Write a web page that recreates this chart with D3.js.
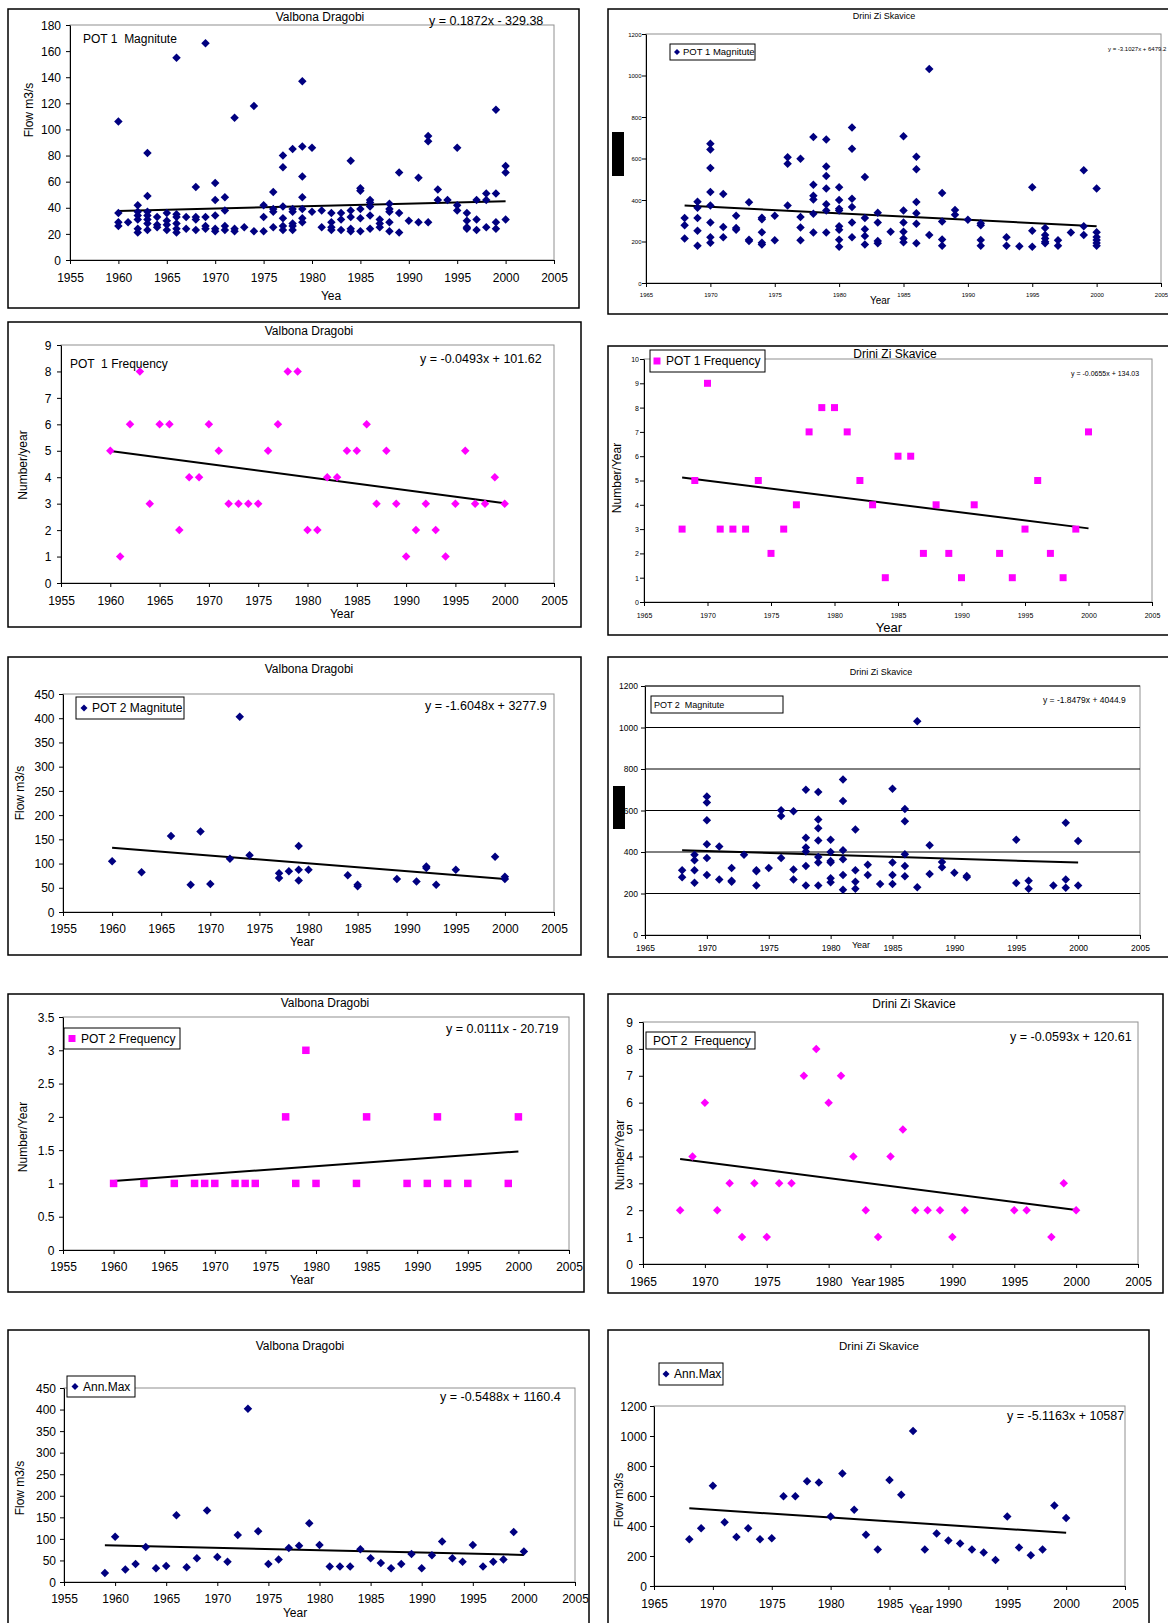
<!DOCTYPE html>
<html>
<head>
<meta charset="utf-8">
<script src="https://cdn.jsdelivr.net/npm/d3@7"></script>
<style>
  body { margin: 0; background: #fff; }
  text { white-space: pre; }
</style>
</head>
<body>
<script>
// ---- data ----

const yearTicksVD = [1955, 1960, 1965, 1970, 1975, 1980, 1985, 1990, 1995, 2000, 2005];
const yearTicksDZ = [1965, 1970, 1975, 1980, 1985, 1990, 1995, 2000, 2005];
const flowTicks180 = [0, 20, 40, 60, 80, 100, 120, 140, 160, 180];
const flowTicks450 = [0, 50, 100, 150, 200, 250, 300, 350, 400, 450];
const flowTicks1200 = [0, 200, 400, 600, 800, 1000, 1200];
const countTicks9 = [0, 1, 2, 3, 4, 5, 6, 7, 8, 9];
const countTicks10 = [0, 1, 2, 3, 4, 5, 6, 7, 8, 9, 10];
const countTicks35 = [0, 0.5, 1, 1.5, 2, 2.5, 3, 3.5];

// Valbona Dragobi, POT 1 magnitude (year, peaks)
const vdPot1Mag = [
    [1960, [106, 36, 29, 26]], [1961, [29]], [1962, [42, 37, 34, 31, 24, 21]],
    [1963, [82, 49, 37, 34, 31, 28, 23]], [1964, [33, 27, 25]], [1965, [36, 30, 27, 23]],
    [1966, [155, 35, 33, 28, 24, 21]], [1967, [33, 24]], [1968, [56, 33, 31, 23]],
    [1969, [166, 33, 26, 24]], [1970, [59, 46, 34, 24, 22]], [1971, [48, 38, 26, 23]],
    [1972, [109, 24, 22]], [1973, [25]], [1974, [118, 22]], [1975, [42, 33, 22]],
    [1976, [52, 39, 37, 25]], [1977, [80, 71, 41, 32, 26, 23]], [1978, [85, 39, 37, 28, 26, 23]],
    [1979, [137, 87, 64, 48, 39, 32, 29]], [1980, [86, 37]], [1981, [38, 25]],
    [1982, [36, 29, 25, 23]], [1983, [36, 31, 23]], [1984, [76, 38, 33, 24, 22]],
    [1985, [55, 53, 39, 32, 22]], [1986, [46, 44, 41, 34, 24]], [1987, [31, 28, 25]],
    [1988, [43, 39, 37, 29, 22]], [1989, [67, 36, 21]], [1990, [30]], [1991, [63, 29]],
    [1992, [95, 91, 29]], [1993, [54, 46]], [1994, [46]], [1995, [86, 42, 38]],
    [1996, [36, 30, 25, 24]], [1997, [46, 31, 23]], [1998, [51, 46, 25]],
    [1999, [115, 51, 29, 24]], [2000, [72, 67, 31]]
];
const vdPot1MagTrend = [0.1872, -329.38];

// Drini Zi Skavice, POT 1 magnitude
const dzPot1Mag = [
    [1968, [313, 278, 215]], [1969, [392, 363, 313, 252, 180]],
    [1970, [671, 643, 554, 439, 374, 291, 220, 194]], [1971, [429, 270, 220]],
    [1972, [324, 265, 257]], [1973, [389, 209, 202]], [1974, [315, 307, 244, 194, 185]],
    [1975, [324, 206]], [1976, [606, 575, 374]], [1977, [599, 318, 268, 206]],
    [1978, [704, 474, 421, 402, 334, 243]], [1979, [691, 561, 516, 455, 379, 350, 243]],
    [1980, [461, 400, 358, 350, 273, 257, 209, 175]], [1981, [750, 647, 406, 366, 291, 220]],
    [1982, [511, 313, 259, 227, 185]], [1983, [339, 291, 202, 191]], [1984, [247]],
    [1985, [707, 350, 291, 247, 214, 196]], [1986, [609, 548, 390, 336, 286, 191]],
    [1987, [1031, 231]], [1988, [434, 296, 210, 180]], [1989, [352, 329]], [1990, [305]],
    [1991, [288, 278, 207, 180]], [1993, [220, 180]], [1994, [177]], [1995, [461, 252, 175]],
    [1996, [265, 231, 215, 199, 191]], [1997, [206, 180]], [1998, [243]],
    [1999, [543, 273, 231]], [2000, [455, 244, 222, 207, 193, 180]]
];
const dzPot1MagTrend = [-3.1027, 6479.2];

// Valbona Dragobi, POT 1 frequency
const vdPot1FreqYears = [1960, 1961, 1962, 1963, 1964, 1965, 1966, 1967, 1968, 1969, 1970, 1971, 1972, 1973,
    1974, 1975, 1976, 1977, 1978, 1979, 1980, 1981, 1982, 1983, 1984, 1985, 1986, 1987, 1988, 1989, 1990,
    1991, 1992, 1993, 1994, 1995, 1996, 1997, 1998, 1999, 2000];
const vdPot1Freq = [5, 1, 6, 8, 3, 6, 6, 2, 4, 4, 6, 5, 3, 3, 3, 3, 5, 6, 8, 8, 2, 2, 4, 4, 5, 5, 6, 3, 5, 3,
    1, 2, 3, 2, 1, 3, 5, 3, 3, 4, 3];
const vdPot1FreqTrend = [-0.0493, 101.62];

// Drini Zi Skavice, POT 1 frequency
const dzPot1FreqYears = [1968, 1969, 1970, 1971, 1972, 1973, 1974, 1975, 1976, 1977, 1978, 1979, 1980, 1981,
    1982, 1983, 1984, 1985, 1986, 1987, 1988, 1989, 1990, 1991, 1993, 1994, 1995, 1996, 1997, 1998, 1999, 2000];
const dzPot1Freq = [3, 5, 9, 3, 3, 3, 5, 2, 3, 4, 7, 8, 8, 7, 5, 4, 1, 6, 6, 2, 4, 2, 1, 4, 2, 1, 3, 5, 2, 1, 3, 7];
const dzPot1FreqTrend = [-0.0655, 134.03];

// Valbona Dragobi, POT 2 magnitude
const vdPot2Mag = [
    [1960, [105]], [1963, [82]], [1966, [157]], [1968, [56]], [1969, [166]], [1970, [58]],
    [1972, [110]], [1973, [403]], [1974, [117]], [1977, [80, 70]], [1978, [84]],
    [1979, [136, 87, 65]], [1980, [87]], [1984, [76]], [1985, [56, 53]], [1989, [68]],
    [1991, [63]], [1992, [94, 91]], [1993, [56]], [1995, [87]], [1999, [114]], [2000, [73, 68]]
];
const vdPot2MagTrend = [-1.6048, 3277.9];

// Drini Zi Skavice, POT 2 magnitude
const dzPot2Mag = [
    [1968, [312, 278]], [1969, [387, 360, 312, 252]], [1970, [668, 639, 553, 437, 371, 289]],
    [1971, [426, 267]], [1972, [323, 262, 257]], [1973, [387]], [1974, [312, 307, 239]],
    [1975, [323]], [1976, [601, 573, 371]], [1977, [596, 316, 267]],
    [1978, [700, 469, 422, 403, 333, 239]], [1979, [689, 557, 514, 455, 376, 349, 239]],
    [1980, [459, 400, 357, 349, 273, 254]], [1981, [750, 646, 408, 365, 289, 218]],
    [1982, [508, 312, 257, 223]], [1983, [339, 289]], [1984, [246]], [1985, [705, 350, 289, 246]],
    [1986, [607, 548, 389, 333, 283]], [1987, [1030, 230]], [1988, [432, 294]], [1989, [352, 326]],
    [1990, [300]], [1991, [284, 278]], [1995, [459, 251]], [1996, [262, 223]], [1998, [239]],
    [1999, [541, 267, 228]], [2000, [453, 239]]
];
const dzPot2MagTrend = [-1.8479, 4044.9];

// Valbona Dragobi, POT 2 frequency
const vdPot2FreqYears = [1960, 1963, 1966, 1968, 1969, 1970, 1972, 1973, 1974, 1977, 1978, 1979, 1980, 1984,
    1985, 1989, 1991, 1992, 1993, 1995, 1999, 2000];
const vdPot2Freq = [1, 1, 1, 1, 1, 1, 1, 1, 1, 2, 1, 3, 1, 1, 2, 1, 1, 2, 1, 1, 1, 2];
const vdPot2FreqTrend = [0.0111, -20.719];

// Drini Zi Skavice, POT 2 frequency
const dzPot2FreqYears = [1968, 1969, 1970, 1971, 1972, 1973, 1974, 1975, 1976, 1977, 1978, 1979, 1980, 1981,
    1982, 1983, 1984, 1985, 1986, 1987, 1988, 1989, 1990, 1991, 1995, 1996, 1998, 1999, 2000];
const dzPot2Freq = [2, 4, 6, 2, 3, 1, 3, 1, 3, 3, 7, 8, 6, 7, 4, 2, 1, 4, 5, 2, 2, 2, 1, 2, 2, 2, 1, 3, 2];
const dzPot2FreqTrend = [-0.0593, 120.61];

// Valbona Dragobi, annual maximum
const vdAnnMaxYears = d3.range(1959, 2001);
const vdAnnMax = [21, 105, 29, 42, 81, 32, 37, 155, 34, 55, 166, 58, 47, 109, 402, 118, 42, 52, 79, 84, 136,
    86, 36, 36, 36, 76, 55, 44, 32, 42, 65, 32, 62, 94, 55, 47, 86, 36, 47, 52, 116, 71];
const vdAnnMaxTrend = [-0.5488, 1160.4];

// Drini Zi Skavice, annual maximum
const dzAnnMaxYears = d3.range(1968, 2001);
const dzAnnMax = [312, 385, 668, 425, 327, 385, 312, 318, 599, 599, 699, 690, 463, 750, 508, 341, 243, 706,
    608, 1033, 243, 350, 303, 283, 243, 223, 174, 463, 256, 205, 243, 537, 454];
const dzAnnMaxTrend = [-5.1163, 10587];

// ---- drawing ----

const NAVY = '#000080';
const PINK = '#ff00ff';
const FONT = '"Liberation Sans", Arial, sans-serif';

const svg = d3.select('body').append('svg')
    .attr('width', 1168)
    .attr('height', 1623)
    .style('font-family', FONT);

function flatten(groups) {
    let pts = [];
    for (let i = 0; i < groups.length; i++) {
        for (let j = 0; j < groups[i][1].length; j++) {
            pts.push([groups[i][0], groups[i][1][j]]);
        }
    }
    return pts;
}

function pairs(years, values) {
    return years.map(function(yr, i) { return [yr, values[i]]; });
}

function markerPath(shape, w) {
    if (shape === 'square') return d3.symbol(d3.symbolSquare, w * w)();
    return d3.symbol(d3.symbolDiamond2, Math.pow(w / 1.2525, 2))();
}

function addText(g, txt, x, y, size, anchor, rotate) {
    let t = g.append('text')
        .attr('font-size', size)
        .attr('text-anchor', anchor || 'start')
        .attr('dy', '0.35em')
        .attr('fill', '#000')
        .text(txt);
    if (rotate) t.attr('transform', 'translate(' + x + ',' + y + ') rotate(-90)');
    else t.attr('x', x).attr('y', y);
    return t;
}

function drawPanel(p) {
    const g = svg.append('g');
    const b = p.box;
    g.append('rect')
        .attr('x', b[0]).attr('y', b[1])
        .attr('width', b[2] - b[0]).attr('height', b[3] - b[1])
        .attr('fill', '#fff').attr('stroke', '#000').attr('stroke-width', 1.5);

    const x = d3.scaleLinear()
        .domain([p.xTicks[0], p.xTicks[p.xTicks.length - 1]])
        .range([p.plot[0], p.plot[2]]);
    const y = d3.scaleLinear()
        .domain([p.yTicks[0], p.yTicks[p.yTicks.length - 1]])
        .range([p.plot[3], p.plot[1]]);

    // plot area frame
    g.append('rect')
        .attr('x', p.plot[0]).attr('y', p.plot[1])
        .attr('width', p.plot[2] - p.plot[0]).attr('height', p.plot[3] - p.plot[1])
        .attr('fill', 'none').attr('stroke', '#909090').attr('stroke-width', 1);

    if (p.grid) {
        g.selectAll('.grid')
            .data(p.yTicks.slice(1))
            .enter().append('line')
            .attr('x1', p.plot[0]).attr('x2', p.plot[2])
            .attr('y1', function(d) { return y(d); })
            .attr('y2', function(d) { return y(d); })
            .attr('stroke', '#000').attr('stroke-width', 1);
    }

    const xa = g.append('g')
        .attr('transform', 'translate(0,' + p.plot[3] + ')')
        .call(d3.axisBottom(x).tickValues(p.xTicks).tickFormat(d3.format('d'))
            .tickSizeInner(4).tickSizeOuter(0));
    xa.attr('font-family', null).attr('font-size', null);
    xa.selectAll('text').attr('y', p.xOff).attr('dy', 0).attr('font-size', p.tick).attr('fill', '#000');

    const ya = g.append('g')
        .attr('transform', 'translate(' + p.plot[0] + ',0)')
        .call(d3.axisLeft(y).tickValues(p.yTicks).tickFormat(d3.format('~g'))
            .tickSizeInner(4).tickSizeOuter(0));
    ya.attr('font-family', null).attr('font-size', null);
    ya.selectAll('text').attr('x', -p.yOff).attr('dy', '0.35em').attr('font-size', p.tick).attr('fill', '#000');

    // trend line
    const tr = p.trend;
    g.append('line')
        .attr('x1', x(p.trendX[0])).attr('y1', y(tr[0] * p.trendX[0] + tr[1]))
        .attr('x2', x(p.trendX[1])).attr('y2', y(tr[0] * p.trendX[1] + tr[1]))
        .attr('stroke', '#000').attr('stroke-width', 2);

    // markers
    g.selectAll('.pt')
        .data(p.points)
        .enter().append('path')
        .attr('d', markerPath(p.shape, p.size))
        .attr('transform', function(d) { return 'translate(' + x(d[0]) + ',' + y(d[1]) + ')'; })
        .attr('fill', p.color);

    if (p.blackRect) {
        const r = p.blackRect;
        g.append('rect').attr('x', r[0]).attr('y', r[1])
            .attr('width', r[2] - r[0]).attr('height', r[3] - r[1]).attr('fill', '#000');
    }

    addText(g, p.title[0], p.title[1], p.title[2], p.title[3], 'middle');
    addText(g, p.eq[0], p.eq[1], p.eq[2], p.eq[3], 'start');
    if (p.xLabel) addText(g, p.xLabel[0], p.xLabel[1], p.xLabel[2], p.xLabel[3], 'middle');
    if (p.yLabel) addText(g, p.yLabel[0], p.yLabel[1], p.yLabel[2], p.yLabel[3], 'middle', true);

    const lg = p.legend;
    if (lg.box) {
        g.append('rect').attr('x', lg.box[0]).attr('y', lg.box[1])
            .attr('width', lg.box[2] - lg.box[0]).attr('height', lg.box[3] - lg.box[1])
            .attr('fill', '#fff').attr('stroke', '#000').attr('stroke-width', 1);
    }
    if (lg.marker) {
        g.append('path')
            .attr('d', markerPath(p.shape, lg.marker[2]))
            .attr('transform', 'translate(' + lg.marker[0] + ',' + lg.marker[1] + ')')
            .attr('fill', p.color);
    }
    addText(g, lg.text, lg.x, lg.y, lg.size, 'start');
}

const panels = [
    { // Valbona Dragobi POT 1 magnitude
        box: [8, 9, 579, 308], plot: [70, 25, 554, 260],
        xTicks: yearTicksVD, yTicks: flowTicks180, tick: 12, xOff: 22, yOff: 9,
        points: flatten(vdPot1Mag), shape: 'diamond', size: 8.5, color: NAVY,
        trend: vdPot1MagTrend, trendX: [1960, 2000],
        title: ['Valbona Dragobi', 320, 17, 12],
        eq: ['y = 0.1872x - 329.38', 429, 21, 12.5],
        xLabel: ['Yea', 331, 296, 12], yLabel: ['Flow m3/s', 29, 110, 12],
        legend: { text: 'POT 1  Magnitute', x: 83, y: 39, size: 12 }
    },
    { // Drini Zi Skavice POT 1 magnitude
        box: [608, 9, 1175, 314], plot: [646, 34, 1161, 283],
        xTicks: yearTicksDZ, yTicks: flowTicks1200, tick: 6, xOff: 14, yOff: 4.5,
        points: flatten(dzPot1Mag), shape: 'diamond', size: 8.5, color: NAVY,
        trend: dzPot1MagTrend, trendX: [1968, 2000],
        title: ['Drini Zi Skavice', 884, 16, 9],
        eq: ['y = -3.1027x + 6479.2', 1108, 49, 6],
        xLabel: ['Year', 880, 300, 10], yLabel: null,
        blackRect: [612, 132, 624, 176],
        legend: { box: [670, 44, 755, 60], marker: [677, 52, 6], text: 'POT 1 Magnitute', x: 683, y: 52, size: 9.5 }
    },
    { // Valbona Dragobi POT 1 frequency
        box: [8, 322, 581, 627], plot: [61, 345, 554, 583],
        xTicks: yearTicksVD, yTicks: countTicks9, tick: 12, xOff: 22, yOff: 9.5,
        points: pairs(vdPot1FreqYears, vdPot1Freq), shape: 'diamond', size: 8.5, color: PINK,
        trend: vdPot1FreqTrend, trendX: [1960, 2000],
        title: ['Valbona Dragobi', 309, 331, 12],
        eq: ['y = -0.0493x + 101.62', 420, 359, 12.5],
        xLabel: ['Year', 342, 614, 12], yLabel: ['Number/year', 23, 465, 12],
        legend: { text: 'POT  1 Frequency', x: 70, y: 364, size: 12 }
    },
    { // Drini Zi Skavice POT 1 frequency
        box: [608, 346, 1175, 635], plot: [644, 359, 1152, 602],
        xTicks: yearTicksDZ, yTicks: countTicks10, tick: 7, xOff: 15.5, yOff: 5,
        points: pairs(dzPot1FreqYears, dzPot1Freq), shape: 'square', size: 7, color: PINK,
        trend: dzPot1FreqTrend, trendX: [1968, 2000],
        title: ['Drini Zi Skavice', 895, 354, 12],
        eq: ['y = -0.0655x + 134.03', 1071, 374, 7],
        xLabel: ['Year', 889, 627, 13], yLabel: ['Number/Year', 617, 478, 12],
        legend: { box: [650, 350, 765, 372], marker: [657, 361, 7], text: 'POT 1 Frequency', x: 666, y: 361, size: 12 }
    },
    { // Valbona Dragobi POT 2 magnitude
        box: [8, 657, 581, 955], plot: [63, 694, 554, 912],
        xTicks: yearTicksVD, yTicks: flowTicks450, tick: 12, xOff: 21, yOff: 8.5,
        points: flatten(vdPot2Mag), shape: 'diamond', size: 8.5, color: NAVY,
        trend: vdPot2MagTrend, trendX: [1960, 2000],
        title: ['Valbona Dragobi', 309, 669, 12],
        eq: ['y = -1.6048x + 3277.9', 425, 706, 12.5],
        xLabel: ['Year', 302, 942, 12], yLabel: ['Flow m3/s', 20, 793, 12],
        legend: { box: [76, 697, 184, 719], marker: [84, 708, 7], text: 'POT 2 Magnitute', x: 92, y: 708, size: 12 }
    },
    { // Drini Zi Skavice POT 2 magnitude
        box: [608, 657, 1175, 957], plot: [645, 686, 1140, 935], grid: true,
        xTicks: yearTicksDZ, yTicks: flowTicks1200, tick: 8.5, xOff: 16, yOff: 7,
        points: flatten(dzPot2Mag), shape: 'diamond', size: 8.5, color: NAVY,
        trend: dzPot2MagTrend, trendX: [1968, 2000],
        title: ['Drini Zi Skavice', 881, 672, 9],
        eq: ['y = -1.8479x + 4044.9', 1043, 700, 8.5],
        xLabel: ['Year', 861, 945, 9], yLabel: null,
        blackRect: [613, 786, 625, 829],
        legend: { box: [651, 696, 783, 713], text: 'POT 2  Magnitute', x: 654, y: 704.5, size: 9 }
    },
    { // Valbona Dragobi POT 2 frequency
        box: [8, 994, 584, 1292], plot: [63, 1017, 569, 1250],
        xTicks: yearTicksVD, yTicks: countTicks35, tick: 12, xOff: 21, yOff: 8.5,
        points: pairs(vdPot2FreqYears, vdPot2Freq), shape: 'square', size: 7.5, color: PINK,
        trend: vdPot2FreqTrend, trendX: [1960, 2000],
        title: ['Valbona Dragobi', 325, 1003, 12],
        eq: ['y = 0.0111x - 20.719', 446, 1029, 12.5],
        xLabel: ['Year', 302, 1280, 12], yLabel: ['Number/Year', 23, 1137, 12],
        legend: { box: [64, 1028, 180, 1049], marker: [72, 1038.5, 7], text: 'POT 2 Frequency', x: 81, y: 1038.5, size: 12 }
    },
    { // Drini Zi Skavice POT 2 frequency
        box: [608, 994, 1163, 1293], plot: [643, 1022, 1138, 1264],
        xTicks: yearTicksDZ, yTicks: countTicks9, tick: 12, xOff: 22, yOff: 10,
        points: pairs(dzPot2FreqYears, dzPot2Freq), shape: 'diamond', size: 8.5, color: PINK,
        trend: dzPot2FreqTrend, trendX: [1968, 2000],
        title: ['Drini Zi Skavice', 914, 1004, 12],
        eq: ['y = -0.0593x + 120.61', 1010, 1037, 12.5],
        xLabel: ['Year', 863, 1282, 12], yLabel: ['Number/Year', 620, 1155, 12],
        legend: { box: [646, 1032, 755, 1049], text: 'POT 2  Frequency', x: 653, y: 1040.5, size: 12 }
    },
    { // Valbona Dragobi annual maximum
        box: [8, 1330, 589, 1640], plot: [64, 1388, 575, 1582],
        xTicks: yearTicksVD, yTicks: flowTicks450, tick: 12, xOff: 21, yOff: 8,
        points: pairs(vdAnnMaxYears, vdAnnMax), shape: 'diamond', size: 8.5, color: NAVY,
        trend: vdAnnMaxTrend, trendX: [1959, 2000],
        title: ['Valbona Dragobi', 300, 1346, 12],
        eq: ['y = -0.5488x + 1160.4', 440, 1397, 12.5],
        xLabel: ['Year', 295, 1613, 12], yLabel: ['Flow m3/s', 20, 1488, 12],
        legend: { box: [67, 1376, 135, 1397], marker: [75, 1386.5, 7], text: 'Ann.Max', x: 83, y: 1386.5, size: 12 }
    },
    { // Drini Zi Skavice annual maximum
        box: [608, 1330, 1149, 1640], plot: [654, 1406, 1125, 1586],
        xTicks: yearTicksDZ, yTicks: flowTicks1200, tick: 12, xOff: 22, yOff: 7,
        points: pairs(dzAnnMaxYears, dzAnnMax), shape: 'diamond', size: 8.5, color: NAVY,
        trend: dzAnnMaxTrend, trendX: [1968, 2000],
        title: ['Drini Zi Skavice', 879, 1346, 11.5],
        eq: ['y = -5.1163x + 10587', 1007, 1416, 12.5],
        xLabel: ['Year', 921, 1609, 12], yLabel: ['Flow m3/s', 619, 1500, 12],
        legend: { box: [659, 1363, 723, 1385], marker: [666, 1374, 7], text: 'Ann.Max', x: 674, y: 1374, size: 12 }
    }
];

panels.forEach(drawPanel);
</script>
</body>
</html>
